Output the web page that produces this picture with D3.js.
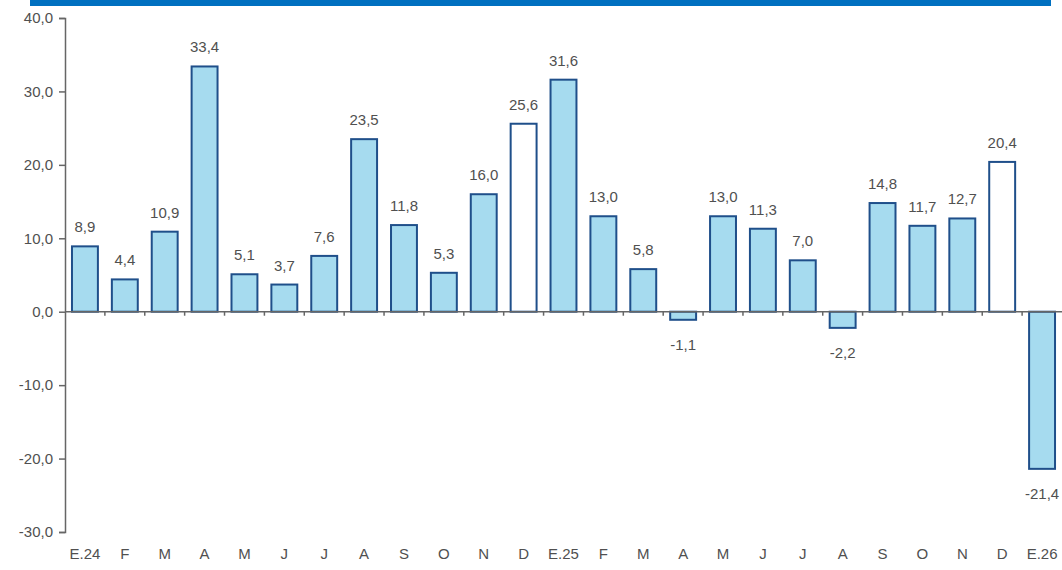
<!DOCTYPE html>
<html>
<head>
<meta charset="utf-8">
<script src="https://cdn.jsdelivr.net/npm/d3@7"></script>
<style>
  body { margin: 0; background: #fff; }
  svg { display: block; }
  text { font-family: "Liberation Sans", Arial, sans-serif; fill: #505050; }
</style>
</head>
<body>
<svg id="chart" width="1062" height="570"></svg>
<script>
// months, Jan 2024 .. Jan 2026
var aCategories = ["E.24", "F", "M", "A", "M", "J", "J", "A", "S", "O", "N", "D",
	"E.25", "F", "M", "A", "M", "J", "J", "A", "S", "O", "N", "D", "E.26"];
var aValues = [8.9, 4.4, 10.9, 33.4, 5.1, 3.7, 7.6, 23.5, 11.8, 5.3, 16.0, 25.6,
	31.6, 13.0, 5.8, -1.1, 13.0, 11.3, 7.0, -2.2, 14.8, 11.7, 12.7, 20.4, -21.4];
var aYTicks = [40, 30, 20, 10, 0, -10, -20, -30];

var fmt = function (v) { return d3.format(".1f")(v).replace(".", ",").replace("−", "-"); };

var svg = d3.select("#chart");

// blue band at the top
svg.append("rect").attr("x", 30).attr("y", 0).attr("width", 1021).attr("height", 6).attr("fill", "#0070c0");

var x = d3.scaleBand().domain(d3.range(aCategories.length)).range([65, 1062]).paddingInner(0.35).paddingOuter(0.175);
var y = d3.scaleLinear().domain([-30, 40]).range([532, 18]);

// y axis
var gY = svg.append("g").attr("transform", "translate(65,0)")
	.call(d3.axisLeft(y).tickValues(aYTicks).tickSize(6).tickPadding(6).tickFormat(fmt));
gY.select(".domain").attr("stroke", "#666").attr("stroke-width", 1.5);
gY.selectAll(".tick line").attr("stroke", "#666").attr("stroke-width", 1.5);
gY.selectAll(".tick text").attr("font-size", 15).style("fill", "#505050").attr("font-family", "Liberation Sans, Arial, sans-serif");

// bars
svg.append("g").selectAll("rect").data(aValues).enter().append("rect")
	.attr("x", function (d, i) { return x(i); })
	.attr("width", x.bandwidth())
	.attr("y", function (d) { return y(Math.max(0, d)); })
	.attr("height", function (d) { return Math.abs(y(d) - y(0)); })
	.attr("fill", function (d, i) { return aCategories[i] === "D" ? "#ffffff" : "#a6dbef"; })
	.attr("stroke", "#1f4f8a")
	.attr("stroke-width", 2);

// x axis at zero
svg.append("line").attr("x1", 65).attr("x2", 1062).attr("y1", y(0)).attr("y2", y(0))
	.attr("stroke", "#666").attr("stroke-width", 1.5);
svg.append("g").selectAll("line").data(d3.range(1, aCategories.length)).enter().append("line")
	.attr("x1", function (i) { return x(i) - x.step() * x.paddingInner() / 2; })
	.attr("x2", function (i) { return x(i) - x.step() * x.paddingInner() / 2; })
	.attr("y1", y(0)).attr("y2", y(0) + 4)
	.attr("stroke", "#666").attr("stroke-width", 1.5);

// value labels
svg.append("g").selectAll("text").data(aValues).enter().append("text")
	.attr("x", function (d, i) { return x(i) + x.bandwidth() / 2; })
	.attr("y", function (d) { return d >= 0 ? y(d) - 14 : y(d) + 30; })
	.attr("text-anchor", "middle")
	.attr("font-size", 15)
	.text(fmt);

// category labels
svg.append("g").selectAll("text").data(aCategories).enter().append("text")
	.attr("x", function (d, i) { return x(i) + x.bandwidth() / 2; })
	.attr("y", 559)
	.attr("text-anchor", "middle")
	.attr("font-size", 15)
	.text(function (d) { return d; });
</script>
</body>
</html>
